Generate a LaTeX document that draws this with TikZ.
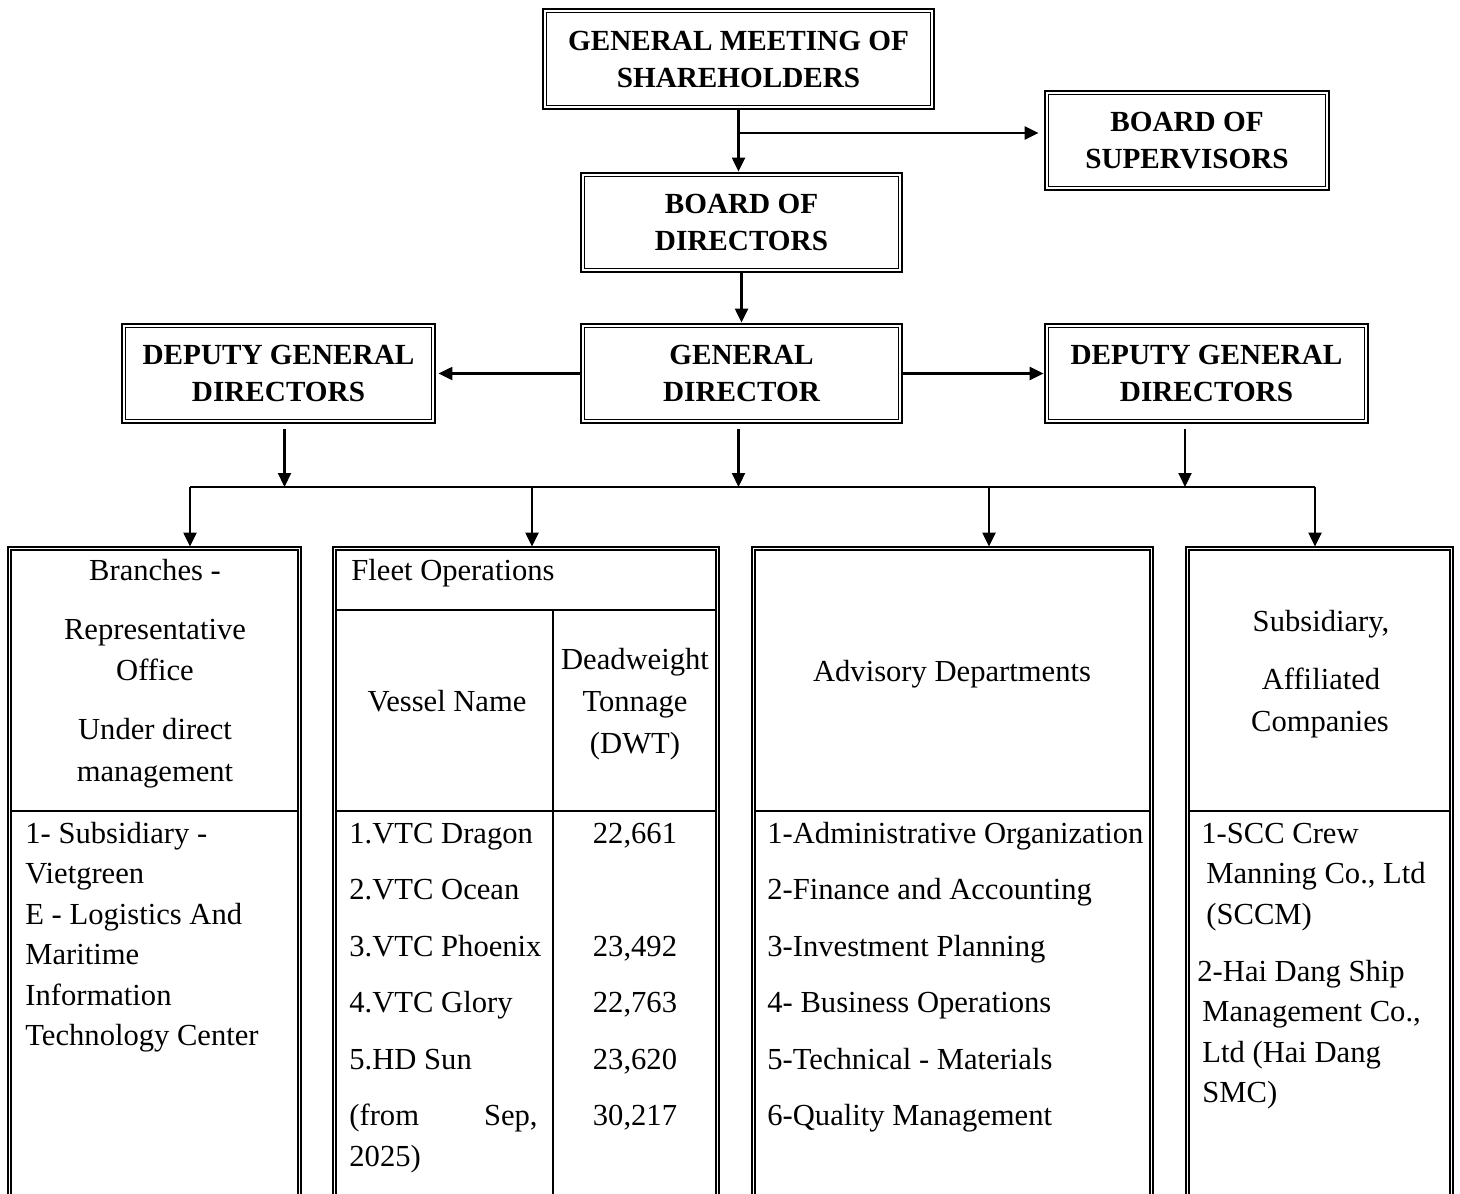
\documentclass[tikz,border=0pt]{standalone}
\usepackage{fontspec}
\setmainfont{Liberation Serif}
\usetikzlibrary{arrows.meta,fit}
\newcommand\drawtable[2]{%
  \draw[tb] (#1,1200) -- (#1,547) -- (#2,547) -- (#2,1200);
  \draw[tb] (#1+3,1200) -- (#1+3,550) -- (#2-3,550) -- (#2-3,1200);
  \draw[line width=0.8pt] (#1+3,811) -- (#2-3,811);}
\begin{document}
\begin{tikzpicture}[x=0.5pt,y=-0.5pt,
  hdr/.style={draw, line width=1.4pt, align=center, font=\fontsize{14.6}{18.5}\selectfont\bfseries, inner sep=0pt},
  arr/.style={line width=1.1pt, -{Triangle[length=7pt,width=6.5pt]}},
  body/.style={font=\fontsize{15.3}{20}\selectfont, inner sep=0pt},
  tb/.style={line width=0.6pt},
]
\useasboundingbox (0,0) rectangle (1460,1193);
\clip (0,0) rectangle (1460,1193);

% top boxes
\node[hdr, minimum width=195.5pt, minimum height=50pt] (gms) at (738.5,59) {GENERAL MEETING OF\\SHAREHOLDERS};
\node[hdr, minimum width=142pt, minimum height=49.5pt] (bos) at (1187,140.5) {BOARD OF\\SUPERVISORS};
\node[hdr, minimum width=160.5pt, minimum height=49.5pt] (bod) at (741.5,222.5) {BOARD OF\\DIRECTORS};
\node[hdr, minimum width=160.5pt, minimum height=49.5pt] (gd) at (741.5,373.5) {GENERAL\\DIRECTOR};
\node[hdr, minimum width=156.5pt, minimum height=49.5pt] (dl) at (278.5,373.5) {DEPUTY GENERAL\\DIRECTORS};
\node[hdr, minimum width=161.5pt, minimum height=49.5pt] (dr) at (1206.5,373.5) {DEPUTY GENERAL\\DIRECTORS};
\foreach \n in {gms,bos,bod,gd,dl,dr}
  \draw[line width=0.7pt] ([shift={(5,5)}]\n.north west) rectangle ([shift={(-5,-5)}]\n.south east);

% table frames (invisible nodes)
\node[fit={(8,547) (301,1200)}, inner sep=0pt] (t1) {};
\node[fit={(333,547) (719,1200)}, inner sep=0pt] (t2) {};
\node[fit={(752,547) (1153,1200)}, inner sep=0pt] (t3) {};
\node[fit={(1186,547) (1453,1200)}, inner sep=0pt] (t4) {};

% connectors
\coordinate (j1) at (738.5,133);
\draw[arr] (gms.south) -- (gms.south |- bod.north);
\draw[arr, shorten >=2.5pt] (j1) -- (j1 -| bos.west);
\draw[arr] (bod.south) -- (gd.north);
\draw[arr, shorten >=1pt] (gd.west) -- (dl.east);
\draw[arr] (gd.east) -- (dr.west);

\coordinate (b1) at (190,487);
\coordinate (b2) at (532,487);
\coordinate (b3) at (989,487);
\coordinate (b4) at (1315,487);
\draw[line width=1.1pt] (b1) -- (b4);
\draw[arr, shorten <=2.5pt] ([xshift=3pt]dl.south) -- ([xshift=3pt]dl.south |- b1);
\draw[arr, shorten <=2.5pt] ([xshift=-1.5pt]gd.south) -- ([xshift=-1.5pt]gd.south |- b1);
\draw[arr, shorten <=2.5pt] ([xshift=-10.75pt]dr.south) -- ([xshift=-10.75pt]dr.south |- b1);
\draw[arr] (b1) -- (b1 |- t1.north);
\draw[arr] (b2) -- (b2 |- t2.north);
\draw[arr] (b3) -- (b3 |- t3.north);
\draw[arr] (b4) -- (b4 |- t4.north);

% tables
\drawtable{8}{301}
\drawtable{333}{719}
\drawtable{752}{1153}
\drawtable{1186}{1453}
\draw[line width=1pt] (336,610) -- (716,610);
\draw[line width=1pt] (553,610) -- (553,1200);

% table 1
\foreach \y/\t [count=\i] in {580/{Branches -},639/Representative,680/Office,739/{Under direct},781/management}
  \node[body, anchor=base] (ah\i) at (155,\y) {\t};
\foreach \y/\t [count=\i] in {843/{1- Subsidiary -},883/Vietgreen,924/{E - Logistics And},964/Maritime,1005/Information,1045/{Technology Center}}
  \node[body, anchor=base west] (ab\i) at (25,\y) {\t};

% table 2
\node[body, anchor=base west] (fo) at (351,580) {Fleet Operations};
\node[body, anchor=base] (vn) at (447,711) {Vessel Name};
\foreach \y/\t [count=\i] in {669/Deadweight,711/Tonnage,753/(DWT)}
  \node[body, anchor=base] (dw\i) at (635,\y) {\t};
\foreach \y/\t [count=\i] in {843/{1.VTC Dragon},899/{2.VTC Ocean},956/{3.VTC Phoenix},1012/{4.VTC Glory},1069/{5.HD Sun},1125/{(from},1166/{2025)}}
  \node[body, anchor=base west] (vs\i) at (349,\y) {\t};
\node[body, anchor=base east] (sep) at (538,1125) {Sep,};
\foreach \y/\t [count=\i] in {843/{22,661},956/{23,492},1012/{22,763},1069/{23,620},1125/{30,217}}
  \node[body, anchor=base] (tn\i) at (635,\y) {\t};

% table 3
\node[body, anchor=base] (adv) at (952,681) {Advisory Departments};
\foreach \y/\t [count=\i] in {843/{1-Administrative Organization},899/{2-Finance and Accounting},956/{3-Investment Planning},1012/{4- Business Operations},1069/{5-Technical - Materials},1125/{6-Quality Management}}
  \node[body, anchor=base west] (ad\i) at (767,\y) {\t};

% table 4
\node[body, anchor=base] (s1) at (1321,631) {Subsidiary,};
\node[body, anchor=base] (s2) at (1321,689) {Affiliated};
\node[body, anchor=base] (s3) at (1320,731) {Companies};
\foreach \x/\y/\t [count=\i] in {1201/843/{1-SCC Crew},1206/883/{Manning Co., Ltd},1206/924/{(SCCM)},1197/981/{2-Hai Dang Ship},1202/1021/{Management Co.,},1202/1062/{Ltd (Hai Dang},1202/1102/{SMC)}}
  \node[body, anchor=base west] (sb\i) at (\x,\y) {\t};
\end{tikzpicture}
\end{document}
